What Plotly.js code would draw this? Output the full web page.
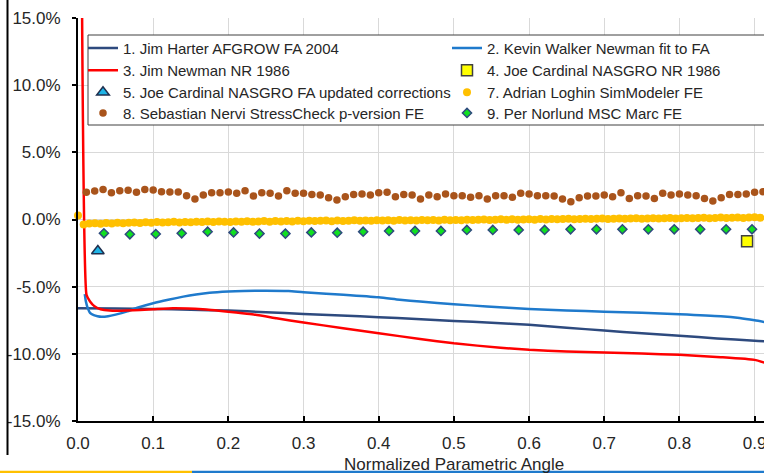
<!DOCTYPE html>
<html>
<head>
<meta charset="utf-8">
<script src="https://cdn.plot.ly/plotly-3.0.1.min.js"></script>
<style>
html,body{margin:0;padding:0;background:#fff;overflow:hidden;}
#chart{width:764px;height:473px;}
</style>
</head>
<body>
<div id="chart"></div>
<script>
// ---- Data (values in percent) ----
const harterX = [0, 0.05, 0.1, 0.15, 0.2, 0.25, 0.3, 0.35, 0.4, 0.45, 0.5, 0.55, 0.6, 0.65, 0.7, 0.75, 0.8, 0.85, 0.9, 0.92];
const harterY = [-6.6, -6.63, -6.66, -6.72, -6.78, -6.9, -7.03, -7.15, -7.27, -7.4, -7.55, -7.68, -7.84, -8.05, -8.27, -8.47, -8.66, -8.85, -9.03, -9.07];

const walkerX = [0.009, 0.0105, 0.013, 0.016, 0.021, 0.026, 0.031, 0.04, 0.05, 0.0645, 0.08, 0.1, 0.12, 0.14, 0.157, 0.175, 0.2, 0.22, 0.25, 0.28, 0.3, 0.33, 0.353, 0.4, 0.428, 0.455, 0.5, 0.544, 0.6, 0.65, 0.7, 0.75, 0.8, 0.855, 0.88, 0.9, 0.92];
const walkerY = [-5.55, -6.1, -6.6, -6.95, -7.12, -7.2, -7.24, -7.2, -7.08, -6.86, -6.55, -6.23, -5.97, -5.74, -5.58, -5.45, -5.36, -5.32, -5.3, -5.33, -5.42, -5.52, -5.6, -5.79, -5.97, -6.11, -6.3, -6.48, -6.66, -6.77, -6.86, -6.95, -7.05, -7.2, -7.33, -7.5, -7.7];

const newmanX = [0.004, 0.0113, 0.016, 0.0224, 0.03, 0.042, 0.065, 0.1, 0.1265, 0.166, 0.2, 0.2285, 0.264, 0.3, 0.3526, 0.4, 0.455, 0.5, 0.562, 0.6, 0.65, 0.7, 0.75, 0.8, 0.855, 0.9, 0.92];
const newmanY = [30, -5.6, -6.1, -6.48, -6.68, -6.78, -6.78, -6.68, -6.6, -6.68, -6.86, -7.03, -7.35, -7.67, -8.09, -8.46, -8.9, -9.22, -9.55, -9.7, -9.82, -9.9, -9.98, -10.07, -10.25, -10.45, -10.78];

const nasgroNrX = [0.89];
const nasgroNrY = [-1.62];

const nasgroFaX = [0.0264];
const nasgroFaY = [-2.34];

// Adrian Loghin SimModeler FE: evenly spaced samples
const loghinX0 = 0, loghinDx = 0.0075;
const loghinY = [0.30, -0.38, -0.30, -0.27, -0.31, -0.26, -0.29, -0.24, -0.28, -0.25,
  -0.22, -0.26, -0.21, -0.24, -0.19, -0.23, -0.20, -0.17, -0.22, -0.18,
  -0.20, -0.16, -0.19, -0.15, -0.18, -0.14, -0.17, -0.19, -0.15, -0.16,
  -0.13, -0.17, -0.14, -0.12, -0.16, -0.11, -0.14, -0.12, -0.15, -0.10,
  -0.13, -0.09, -0.12, -0.10, -0.08, -0.13, -0.07, -0.11, -0.09, -0.06,
  -0.10, -0.07, -0.09, -0.05, -0.08, -0.06, -0.09, -0.04, -0.07, -0.05,
  -0.08, -0.03, -0.06, -0.04, -0.07, -0.02, -0.05, -0.03, -0.06, -0.01,
  -0.04, -0.02, 0.00, -0.03, -0.01, 0.01, -0.02, 0.02, -0.01, 0.00,
  0.02, -0.01, 0.03, 0.00, 0.04, 0.01, 0.03, 0.05, 0.02, 0.04,
  0.06, 0.03, 0.05, 0.07, 0.04, 0.06, 0.08, 0.05, 0.07, 0.09,
  0.06, 0.08, 0.10, 0.07, 0.09, 0.11, 0.08, 0.10, 0.12, 0.09,
  0.11, 0.13, 0.10, 0.12, 0.14, 0.11, 0.13, 0.15, 0.12, 0.14,
  0.16, 0.13, 0.15];

// Sebastian Nervi StressCheck p-version FE
const nerviX0 = 1/90, nerviDx = 1/90;
const nerviY = [2.02, 2.12, 2.24, 1.99, 2.14, 2.17, 2.02, 2.24, 2.19, 2.07,
  2.04, 2.04, 1.77, 1.52, 1.82, 1.99, 1.99, 2.04, 1.95, 2.14,
  1.75, 1.99, 1.95, 1.75, 2.14, 1.95, 1.95, 1.87, 1.82, 1.62,
  1.45, 1.70, 1.87, 1.90, 1.82, 1.99, 2.02, 1.70, 1.87, 1.82,
  1.52, 1.82, 1.70, 1.90, 1.77, 1.77, 1.65, 1.77, 1.52, 1.77,
  1.77, 1.65, 1.95, 1.90, 1.77, 1.77, 1.75, 1.52, 1.32, 1.62,
  1.75, 1.75, 1.82, 1.70, 1.99, 1.57, 1.77, 1.75, 1.57, 1.95,
  1.82, 1.90, 1.82, 1.77, 1.57, 1.37, 1.62, 1.87, 1.87, 1.90,
  2.02, 2.07];

// Per Norlund MSC Marc FE
const norlundX0 = 1/29, norlundDx = 1/29;
const norlundY = [-1.03, -1.10, -1.08, -1.03, -0.91, -0.96, -1.05, -1.05,
  -0.96, -0.98, -0.91, -0.85, -0.85, -0.85, -0.78, -0.78, -0.78,
  -0.78, -0.73, -0.73, -0.73, -0.73, -0.73, -0.73, -0.73, -0.73];

const names = [
  "1. Jim Harter AFGROW FA 2004",
  "2. Kevin Walker Newman fit to FA",
  "3. Jim Newman NR 1986",
  "4. Joe Cardinal NASGRO NR 1986",
  "5. Joe Cardinal NASGRO FA updated corrections",
  "7. Adrian Loghin SimModeler FE",
  "8. Sebastian Nervi StressCheck p-version FE",
  "9. Per Norlund MSC Marc FE"
];

const xTickVals = [0, 0.1, 0.2, 0.3, 0.4, 0.5, 0.6, 0.7, 0.8, 0.9];
const xTickText = ["0.0", "0.1", "0.2", "0.3", "0.4", "0.5", "0.6", "0.7", "0.8", "0.9"];
const yTickVals = [-15, -10, -5, 0, 5, 10, 15];
const yTickText = ["-15.0%", "-10.0%", "-5.0%", "0.0%", "5.0%", "10.0%", "15.0%"];

// ---- Traces ----
const traces = [
  {x: harterX, y: harterY, name: names[0], mode: 'lines', legend: 'legend',
   line: {color: '#2E4A7E', width: 2.5, shape: 'spline', smoothing: 0.6}},
  {x: walkerX, y: walkerY, name: names[1], mode: 'lines', legend: 'legend2',
   line: {color: '#1F7ACC', width: 2.5, shape: 'spline', smoothing: 0.6}},
  {x: newmanX, y: newmanY, name: names[2], mode: 'lines', legend: 'legend3',
   line: {color: '#FF0000', width: 2.5, shape: 'spline', smoothing: 0.4}},
  {x: nasgroNrX, y: nasgroNrY, name: names[3], mode: 'markers', legend: 'legend4',
   marker: {symbol: 'square', size: 11, color: '#FFFF00', line: {color: '#404040', width: 1.5}}},
  {x: nasgroFaX, y: nasgroFaY, name: names[4], mode: 'markers', legend: 'legend5',
   marker: {symbol: 'triangle-up', size: 11, color: '#1FB4E6', line: {color: '#1F2F4F', width: 1.5}}},
  {x0: loghinX0, dx: loghinDx, y: loghinY, name: names[5], mode: 'markers', legend: 'legend6',
   cliponaxis: false,
   marker: {symbol: 'circle', size: 8, color: '#FFC000'}},
  {x0: nerviX0, dx: nerviDx, y: nerviY, name: names[6], mode: 'markers', legend: 'legend7',
   marker: {symbol: 'circle', size: 7.5, color: '#A9541B'}},
  {x0: norlundX0, dx: norlundDx, y: norlundY, name: names[7], mode: 'markers', legend: 'legend8',
   marker: {symbol: 'diamond', size: 7, color: '#10E020', line: {color: '#2E4A7E', width: 1.5}}}
];

// ---- Layout ----
const L = 78, T = 18, W = 686, H = 403;
function px2x(p){ return (p - L) / W; }
function px2y(p){ return (T + H - p) / H; }

const textColor = '#262626';
function legendAt(leftPx, rowCenterPx){
  return {
    bgcolor: 'rgba(0,0,0,0)', borderwidth: 0,
    font: {family: 'Liberation Sans, Arial, sans-serif', size: 15, color: textColor},
    xanchor: 'left', yanchor: 'top', itemwidth: 30,
    x: px2x(leftPx), y: px2y(rowCenterPx - 15)
  };
}
const colLeft = [83, 447];
const rowCenter = [46.7, 69, 91, 111.7];

const layout = {
  width: 764, height: 473,
  margin: {l: L, r: 0, t: T, b: 473 - T - H, pad: 0},
  paper_bgcolor: '#ffffff', plot_bgcolor: '#ffffff',
  font: {family: 'Liberation Sans, Arial, sans-serif', color: textColor},
  showlegend: true,
  xaxis: {
    range: [0, 0.9125], tickmode: 'array', tickvals: xTickVals, ticktext: xTickText,
    ticklabeloverflow: 'allow',
    showgrid: true, gridcolor: '#D9D9D9', gridwidth: 1,
    zeroline: false, showline: true, linecolor: '#000000', linewidth: 2,
    ticks: 'inside', ticklen: 5, tickwidth: 2, tickcolor: '#000000',
    tickfont: {size: 17, color: textColor}, ticklabelstandoff: 6
  },
  yaxis: {
    range: [-15, 15], tickmode: 'array', tickvals: yTickVals, ticktext: yTickText,
    ticklabeloverflow: 'allow',
    showgrid: true, gridcolor: '#D9D9D9', gridwidth: 1,
    zeroline: false, showline: true, linecolor: '#000000', linewidth: 2,
    ticks: 'outside', ticklen: 4, tickwidth: 2, tickcolor: '#000000',
    tickfont: {size: 17, color: textColor}, ticklabelstandoff: 8
  },
  legend:  legendAt(colLeft[0], rowCenter[0]),
  legend2: legendAt(colLeft[1], rowCenter[0]),
  legend3: legendAt(colLeft[0], rowCenter[1]),
  legend4: legendAt(colLeft[1], rowCenter[1]),
  legend5: legendAt(colLeft[0], rowCenter[2]),
  legend6: legendAt(colLeft[1], rowCenter[2]),
  legend7: legendAt(colLeft[0], rowCenter[3]),
  legend8: legendAt(colLeft[1], rowCenter[3]),
  shapes: [
    {type: 'rect', xref: 'paper', yref: 'paper', layer: 'above',
     x0: px2x(88), x1: px2x(900), y0: px2y(125), y1: px2y(35),
     fillcolor: '#ffffff', line: {color: '#404040', width: 1}},
    {type: 'line', xref: 'paper', yref: 'paper', layer: 'above',
     x0: px2x(7.5), x1: px2x(7.5), y0: px2y(0), y1: px2y(455),
     line: {color: '#000000', width: 2}},
    {type: 'line', xref: 'paper', yref: 'paper', layer: 'above',
     x0: px2x(0), x1: px2x(192), y0: px2y(472), y1: px2y(472),
     line: {color: '#FFC000', width: 2.5}},
    {type: 'line', xref: 'paper', yref: 'paper', layer: 'above',
     x0: px2x(192), x1: px2x(764), y0: px2y(472), y1: px2y(472),
     line: {color: '#1F7ACC', width: 2.5}}
  ],
  annotations: [
    {text: 'Normalized Parametric Angle', xref: 'x', yref: 'paper',
     x: 0.5, y: px2y(453), xanchor: 'center', yanchor: 'top', showarrow: false,
     font: {size: 17, color: textColor}}
  ]
};

Plotly.newPlot('chart', traces, layout, {displayModeBar: false, staticPlot: true});
</script>
</body>
</html>
